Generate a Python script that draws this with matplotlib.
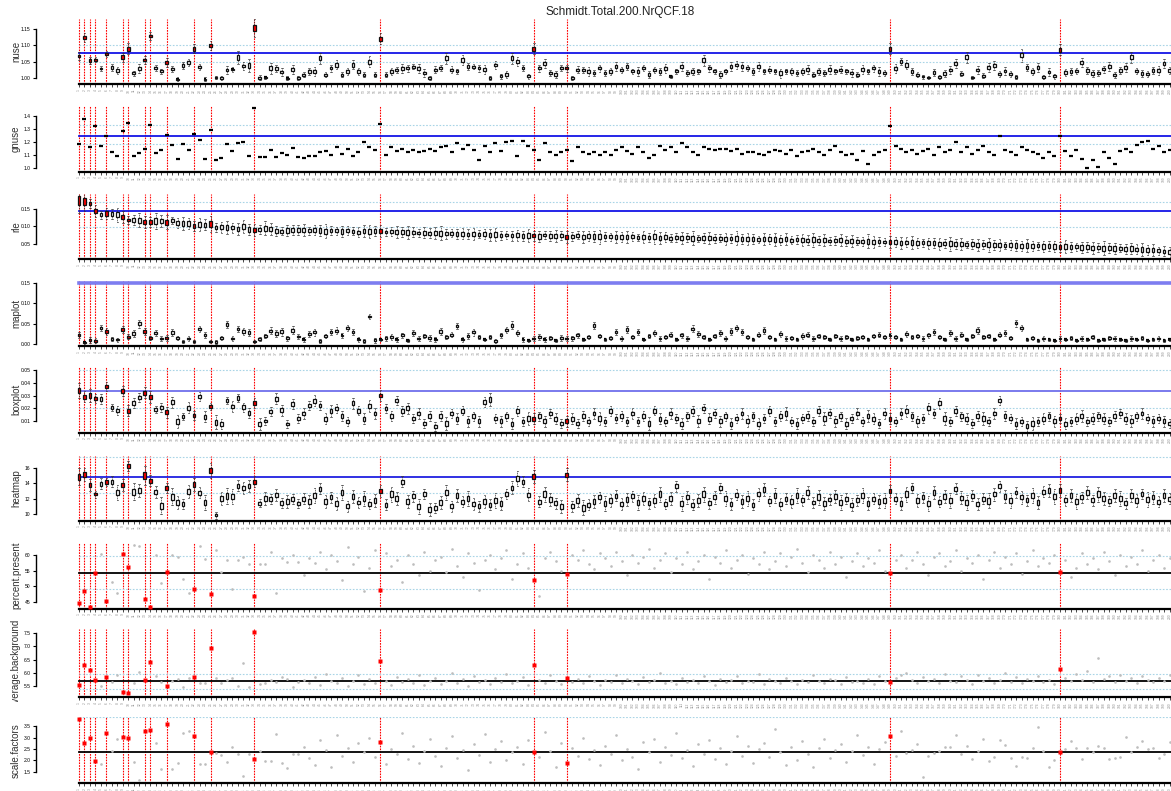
from matplotlib import pyplot as plt
from matplotlib.transforms import Bbox, TransformedBbox

plt.rcParams['font.family'] = 'Liberation Sans'

n = 200
outliers = [0, 1, 2, 3, 5, 8, 9, 12, 13, 16, 21, 24, 32, 55, 83, 89, 148, 179]
sample_names = [str(i + 1) for i in range(n)]

nuse = [1.067, 1.123, 1.053, 1.056, 1.029, 1.073, 1.032, 1.022, 1.064, 1.089,
        1.014, 1.028, 1.055, 1.129, 1.031, 1.020, 1.047, 1.028, 0.996, 1.039,
        1.048, 1.089, 1.034, 0.996, 1.099, 1.001, 1.000, 1.024, 1.026, 1.063,
        1.037, 1.038, 1.153, 1.001, 1.002, 1.030, 1.029, 1.018, 0.999, 1.027,
        1.000, 1.010, 1.020, 1.020, 1.060, 1.010, 1.030, 1.040, 1.010, 1.020,
        1.040, 1.020, 1.010, 1.050, 1.010, 1.120, 1.010, 1.020, 1.025, 1.030,
        1.030, 1.035, 1.030, 1.015, 1.000, 1.025, 1.030, 1.060, 1.025, 1.020,
        1.055, 1.035, 1.035, 1.030, 1.025, 1.000, 1.040, 1.005, 1.010, 1.060,
        1.050, 1.030, 1.005, 1.090, 1.030, 1.045, 1.015, 1.010, 1.030, 1.030,
        1.000, 1.025, 1.025, 1.020, 1.015, 1.030, 1.015, 1.020, 1.035, 1.025,
        1.035, 1.020, 1.020, 1.030, 1.010, 1.025, 1.020, 1.030, 1.005, 1.020,
        1.035, 1.015, 1.020, 1.020, 1.055, 1.030, 1.020, 1.010, 1.020, 1.035,
        1.040, 1.035, 1.030, 1.020, 1.035, 1.020, 1.025, 1.020, 1.015, 1.020,
        1.020, 1.015, 1.020, 1.025, 1.010, 1.020, 1.015, 1.025, 1.020, 1.025,
        1.020, 1.015, 1.010, 1.025, 1.020, 1.030, 1.020, 1.015, 1.090, 1.030,
        1.050, 1.040, 1.020, 1.010, 1.004, 1.001, 1.016, 1.003, 1.013, 1.024,
        1.045, 1.013, 1.063, 1.001, 1.024, 1.007, 1.033, 1.039, 1.012, 1.021,
        1.012, 1.003, 1.070, 1.032, 1.020, 1.033, 1.003, 1.018, 1.005, 1.086,
        1.017, 1.019, 1.021, 1.047, 1.023, 1.013, 1.016, 1.027, 1.036, 1.009,
        1.022, 1.033, 1.063, 1.022, 1.013, 1.012, 1.023, 1.024, 1.044, 1.022]
nuse_iqr = [.008, .010, .008, .006, .006, .006, .008, .008, .010, .012,
            .006, .010, .008, .008, .006, .006, .010, .006, .004, .008,
            .008, .010, .006, .004, .010, .004, .004, .008, .006, .014,
            .008, .014, .020, .006, .004, .012, .008, .008, .004, .010,
            .004, .006, .008, .010, .012, .006, .008, .010, .006, .008,
            .010, .008, .006, .012, .006, .012, .006, .008, .006, .010,
            .008, .006, .010, .008, .004, .008, .006, .012, .008, .006,
            .010, .008, .006, .008, .010, .004, .008, .006, .008, .012,
            .010, .006, .006, .012, .008, .010, .006, .008, .006, .008,
            .004, .008, .006, .010, .006, .008, .006, .008, .010, .006,
            .008, .006, .010, .006, .008, .006, .008, .010, .004, .006,
            .010, .006, .008, .006, .012, .008, .006, .008, .006, .010,
            .008, .010, .006, .008, .010, .006, .008, .006, .010, .006,
            .008, .006, .008, .010, .006, .008, .006, .010, .006, .008,
            .006, .008, .006, .010, .006, .008, .010, .006, .012, .010,
            .008, .010, .008, .006, .004, .004, .008, .004, .008, .008,
            .010, .006, .012, .004, .008, .006, .010, .010, .006, .008,
            .006, .004, .014, .008, .008, .010, .004, .008, .006, .012,
            .008, .008, .006, .010, .008, .008, .006, .008, .010, .006,
            .008, .010, .012, .006, .008, .006, .008, .010, .010, .008]

gnuse = [1.187, 1.377, 1.162, 1.326, 1.172, 1.249, 1.126, 1.092, 1.287, 1.346,
         1.092, 1.118, 1.149, 1.333, 1.118, 1.141, 1.256, 1.174, 1.072, 1.187,
         1.141, 1.262, 1.218, 1.072, 1.295, 1.062, 1.077, 1.182, 1.128, 1.192,
         1.197, 1.095, 1.462, 1.085, 1.085, 1.141, 1.085, 1.118, 1.100, 1.156,
         1.082, 1.08, 1.09, 1.09, 1.12, 1.13, 1.10, 1.16, 1.11, 1.15,
         1.09, 1.12, 1.20, 1.16, 1.14, 1.34, 1.10, 1.16, 1.13, 1.15,
         1.12, 1.14, 1.12, 1.13, 1.15, 1.13, 1.16, 1.17, 1.12, 1.19,
         1.15, 1.18, 1.14, 1.06, 1.17, 1.12, 1.19, 1.13, 1.20, 1.21,
         1.09, 1.21, 1.17, 1.14, 1.06, 1.19, 1.12, 1.10, 1.12, 1.14,
         1.05, 1.16, 1.12, 1.11, 1.12, 1.10, 1.12, 1.10, 1.14, 1.16,
         1.13, 1.11, 1.16, 1.12, 1.08, 1.10, 1.17, 1.14, 1.16, 1.12,
         1.19, 1.16, 1.12, 1.10, 1.16, 1.15, 1.14, 1.15, 1.15, 1.13,
         1.15, 1.11, 1.12, 1.12, 1.11, 1.10, 1.12, 1.14, 1.13, 1.11,
         1.14, 1.09, 1.12, 1.13, 1.15, 1.12, 1.10, 1.14, 1.17, 1.12,
         1.10, 1.11, 1.06, 1.13, 1.03, 1.10, 1.12, 1.14, 1.32, 1.17,
         1.15, 1.12, 1.14, 1.11, 1.13, 1.15, 1.10, 1.16, 1.12, 1.14,
         1.20, 1.12, 1.16, 1.11, 1.14, 1.17, 1.12, 1.10, 1.25, 1.14,
         1.12, 1.10, 1.16, 1.14, 1.12, 1.11, 1.08, 1.12, 1.09, 1.25,
         1.13, 1.09, 1.14, 1.07, 1.00, 1.06, 1.01, 1.12, 1.08, 1.03,
         1.13, 1.15, 1.12, 1.18, 1.20, 1.21, 1.15, 1.17, 1.12, 1.14]

rle = [.174, .172, .166, .145, .133, .137, .135, .133, .127, .118,
       .118, .118, .112, .113, .116, .116, .112, .117, .110, .108,
       .108, .101, .105, .105, .106, .097, .097, .097, .096, .093,
       .100, .091, .089, .091, .095, .093, .087, .086, .088, .089,
       .089, .090, .087, .089, .088, .086, .088, .087, .085, .088,
       .086, .083, .087, .085, .086, .086, .084, .085, .083, .084,
       .082, .083, .081, .082, .080, .081, .080, .079, .080, .078,
       .079, .077, .078, .077, .078, .076, .077, .074, .075, .073,
       .074, .072, .074, .073, .071, .075, .072, .073, .074, .069,
       .071, .074, .070, .072, .071, .070, .071, .070, .069, .070,
       .069, .071, .068, .069, .068, .070, .067, .069, .066, .068,
       .067, .068, .066, .065, .067, .066, .065, .066, .064, .065,
       .066, .064, .063, .064, .062, .064, .063, .062, .061, .063,
       .060, .062, .061, .060, .061, .059, .060, .058, .059, .060,
       .057, .058, .057, .056, .057, .055, .056, .055, .054, .055,
       .053, .054, .053, .052, .053, .051, .052, .050, .051, .050,
       .049, .050, .048, .049, .047, .048, .047, .046, .047, .045,
       .046, .045, .044, .045, .043, .044, .042, .043, .042, .041,
       .042, .040, .041, .039, .040, .038, .039, .037, .038, .036,
       .037, .035, .036, .034, .033, .032, .031, .030, .028, .025]
rle_iqr = [.025, .019, .010, .012, .008, .012, .010, .015, .012, .008,
           .010, .014, .012, .010, .016, .012, .014, .008, .010, .014,
           .012, .010, .014, .012, .016, .010, .012, .014, .010, .012,
           .014, .012, .012, .010, .014, .012, .010, .008, .012, .010,
           .010, .012, .008, .010, .012, .014, .010, .008, .012, .010,
           .008, .010, .012, .014, .010, .012, .008, .010, .012, .010,
           .014, .010, .008, .012, .010, .012, .014, .010, .008, .010,
           .012, .010, .012, .008, .010, .012, .014, .010, .008, .010,
           .012, .010, .014, .010, .012, .008, .010, .012, .010, .012,
           .010, .008, .012, .010, .012, .014, .010, .008, .012, .010,
           .012, .010, .008, .012, .010, .014, .012, .010, .008, .010,
           .012, .010, .014, .008, .010, .012, .010, .008, .012, .010,
           .014, .010, .012, .010, .008, .012, .010, .014, .010, .012,
           .008, .010, .012, .010, .014, .010, .012, .008, .010, .012,
           .010, .012, .008, .010, .014, .012, .010, .008, .012, .010,
           .012, .010, .014, .010, .008, .012, .010, .012, .010, .014,
           .010, .012, .008, .010, .012, .010, .014, .010, .012, .008,
           .010, .012, .010, .014, .010, .008, .012, .010, .012, .010,
           .014, .010, .008, .012, .010, .012, .010, .014, .010, .012,
           .008, .010, .012, .010, .014, .010, .012, .008, .010, .012]

maplot = [.023, .005, .010, .009, .040, .031, .013, .011, .036, .019,
          .027, .051, .031, .016, .027, .014, .016, .029, .016, .007,
          .014, .007, .038, .023, .007, .006, .016, .049, .014, .038,
          .032, .029, .007, .013, .020, .033, .027, .031, .015, .034,
          .019, .012, .025, .030, .008, .020, .030, .033, .022, .040,
          .030, .012, .008, .068, .010, .012, .015, .018, .012, .022,
          .010, .028, .014, .020, .016, .012, .032, .018, .024, .045,
          .012, .020, .030, .018, .012, .018, .008, .022, .035, .047,
          .028, .012, .010, .014, .018, .012, .016, .010, .016, .014,
          .015, .022, .012, .018, .046, .020, .012, .016, .030, .014,
          .036, .018, .030, .012, .020, .028, .014, .018, .024, .012,
          .022, .014, .038, .026, .018, .012, .020, .028, .014, .032,
          .040, .030, .018, .012, .024, .034, .018, .012, .026, .014,
          .016, .012, .020, .024, .014, .020, .018, .012, .020, .014,
          .018, .012, .016, .018, .012, .020, .024, .018, .022, .018,
          .012, .026, .018, .020, .014, .022, .030, .018, .012, .028,
          .014, .024, .012, .020, .034, .018, .020, .012, .024, .028,
          .016, .052, .040, .012, .016, .010, .014, .012, .010, .014,
          .012, .016, .010, .014, .012, .018, .010, .012, .016, .014,
          .012, .010, .014, .012, .016, .010, .012, .014, .010, .012]
maplot_iqr = [.006, .003, .005, .004, .005, .006, .003, .003, .006, .005,
              .006, .007, .006, .004, .005, .004, .005, .006, .004, .003,
              .004, .003, .005, .006, .003, .003, .004, .006, .004, .005,
              .006, .006, .003, .004, .004, .006, .006, .007, .004, .007,
              .004, .004, .005, .006, .003, .004, .005, .006, .004, .006,
              .005, .004, .003, .004, .004, .003, .004, .005, .004, .005,
              .003, .005, .004, .004, .005, .004, .006, .004, .005, .006,
              .004, .005, .006, .004, .003, .004, .003, .005, .006, .007,
              .005, .004, .003, .004, .005, .004, .004, .003, .005, .004,
              .004, .005, .003, .004, .006, .004, .003, .004, .005, .004,
              .006, .004, .005, .003, .004, .005, .004, .004, .005, .003,
              .005, .004, .006, .005, .004, .003, .004, .005, .004, .006,
              .006, .005, .004, .003, .005, .006, .004, .003, .005, .004,
              .004, .003, .005, .005, .004, .004, .004, .003, .004, .004,
              .004, .003, .004, .004, .003, .004, .005, .004, .004, .004,
              .003, .005, .004, .004, .004, .005, .005, .004, .003, .005,
              .004, .005, .003, .004, .006, .004, .004, .003, .005, .005,
              .004, .006, .006, .003, .004, .003, .004, .003, .003, .004,
              .003, .004, .003, .004, .003, .004, .003, .003, .004, .004,
              .003, .003, .004, .003, .004, .003, .003, .004, .003, .003]

boxplot = [.0339, .0292, .0302, .0279, .0273, .0370, .0206, .0182, .0336, .0182,
           .0242, .0287, .0323, .0290, .0190, .0208, .0170, .0247, .0096, .0135,
           .0206, .0146, .0290, .0135, .0213, .0091, .0078, .0260, .0215, .0281,
           .0210, .0164, .0242, .0078, .0101, .0174, .0276, .0185, .0078, .0234,
           .0120, .016, .022, .026, .022, .012, .018, .020, .014, .010,
           .024, .018, .012, .022, .016, .030, .020, .014, .026, .018,
           .020, .012, .016, .008, .014, .006, .014, .008, .016, .012,
           .018, .010, .014, .010, .025, .027, .012, .010, .014, .008,
           .018, .010, .012, .012, .014, .010, .016, .012, .008, .010,
           .012, .008, .014, .010, .016, .012, .010, .018, .012, .014,
           .010, .016, .010, .014, .008, .018, .012, .010, .016, .012,
           .008, .014, .018, .010, .020, .012, .016, .010, .014, .008,
           .012, .016, .010, .014, .008, .012, .018, .010, .014, .016,
           .010, .008, .012, .014, .010, .018, .012, .016, .010, .014,
           .008, .012, .016, .010, .014, .012, .008, .016, .012, .010,
           .016, .018, .014, .010, .012, .020, .016, .024, .012, .010,
           .018, .014, .012, .008, .014, .012, .010, .016, .026, .014,
           .012, .008, .010, .006, .008, .010, .012, .014, .010, .012,
           .008, .010, .012, .014, .010, .012, .014, .012, .010, .014,
           .016, .012, .010, .014, .016, .012, .010, .012, .010, .008]
boxplot_iqr = [.0040, .0030, .0035, .0025, .0030, .0025, .0020, .0025, .0030, .0030,
               .0030, .0025, .0030, .0035, .0020, .0025, .0030, .0030, .0035, .0020,
               .0030, .0025, .0025, .0030, .0020, .0040, .0030, .0020, .0030, .0025,
               .0025, .0030, .0030, .0035, .0020, .0025, .0030, .0030, .0020, .0030,
               .0025, .0030, .0025, .0030, .0025, .0030, .0035, .0025, .0030, .0025,
               .0030, .0025, .0030, .0035, .0030, .0030, .0025, .0030, .0025, .0030,
               .0030, .0025, .0030, .0025, .0030, .0025, .0030, .0035, .0025, .0030,
               .0025, .0030, .0025, .0030, .0030, .0035, .0025, .0030, .0025, .0030,
               .0030, .0025, .0035, .0030, .0025, .0030, .0025, .0030, .0025, .0030,
               .0030, .0025, .0030, .0025, .0030, .0035, .0025, .0030, .0025, .0030,
               .0025, .0030, .0025, .0030, .0035, .0025, .0030, .0025, .0030, .0025,
               .0030, .0025, .0030, .0035, .0025, .0030, .0025, .0030, .0025, .0030,
               .0025, .0030, .0035, .0025, .0030, .0025, .0030, .0025, .0030, .0035,
               .0025, .0030, .0025, .0030, .0025, .0030, .0035, .0025, .0030, .0025,
               .0030, .0025, .0030, .0025, .0035, .0030, .0025, .0030, .0030, .0025,
               .0030, .0035, .0025, .0030, .0025, .0030, .0025, .0030, .0035, .0025,
               .0030, .0025, .0030, .0025, .0030, .0035, .0025, .0030, .0025, .0030,
               .0025, .0030, .0025, .0030, .0035, .0025, .0030, .0025, .0030, .0025,
               .0030, .0025, .0030, .0035, .0025, .0030, .0025, .0030, .0025, .0030,
               .0025, .0030, .0035, .0025, .0030, .0025, .0030, .0025, .0030, .0025]

heatmap = [14.87, 15.13, 13.78, 12.57, 13.96, 14.17, 14.22, 12.78, 13.78, 16.26,
           12.91, 13.09, 15.04, 14.35, 12.87, 11.09, 13.39, 12.26, 11.52, 11.30,
           12.96, 13.83, 12.78, 11.52, 15.65, 9.83, 12.04, 12.35, 12.26, 13.70,
           13.39, 13.65, 14.22, 11.43, 12.00, 11.96, 12.48, 11.43, 11.65, 11.96,
           11.39, 12.0, 11.6, 12.4, 13.3, 11.6, 12.2, 11.4, 12.8, 11.0,
           12.3, 11.5, 12.0, 11.3, 11.8, 13.0, 11.2, 12.6, 12.0, 14.2,
           11.6, 12.3, 11.0, 12.6, 10.6, 10.8, 11.5, 12.8, 11.0, 12.4,
           11.6, 12.0, 11.3, 11.0, 11.6, 11.2, 11.8, 11.4, 12.6, 13.4,
           14.6, 14.2, 12.5, 14.9, 11.6, 12.6, 11.9, 11.4, 11.0, 15.1,
           11.0, 11.8, 10.8, 11.2, 11.6, 12.2, 11.4, 11.8, 12.4, 11.3,
           11.9, 12.3, 11.5, 12.0, 11.4, 11.8, 12.6, 11.3, 12.0, 13.6,
           11.4, 12.2, 11.2, 11.8, 12.6, 11.4, 12.2, 13.4, 12.0, 11.3,
           12.5, 11.6, 12.0, 11.2, 12.6, 13.2, 11.7, 12.4, 11.3, 12.0,
           11.6, 12.4, 11.8, 12.8, 11.5, 12.2, 11.4, 11.9, 12.3, 11.5,
           12.0, 11.2, 11.8, 12.4, 11.4, 12.0, 11.6, 11.8, 13.0, 12.0,
           11.4, 12.6, 13.4, 11.8, 12.2, 11.4, 12.8, 11.6, 12.3, 11.8,
           13.3, 12.1, 11.5, 12.4, 11.3, 12.0, 11.7, 12.6, 13.6, 12.3,
           11.8, 12.8, 12.2, 11.8, 12.4, 11.5, 12.9, 13.1, 12.3, 13.1,
           11.8, 12.4, 11.6, 12.2, 12.8, 11.8, 12.6, 12.0, 11.7, 12.4,
           12.0, 11.4, 12.4, 11.8, 12.6, 11.9, 12.2, 11.6, 12.4, 12.0]
heatmap_iqr = [.8, .6, .6, .3, .5, .4, .5, .7, .6, .5,
               .8, .6, .9, .5, .6, .8, .5, .8, .6, .5,
               .6, .6, .5, .7, .7, .3, .6, .7, .7, .5,
               .6, .6, .5, .4, .6, .5, .6, .5, .6, .5,
               .4, .5, .6, .7, .5, .6, .5, .6, .7, .5,
               .6, .5, .7, .5, .6, .6, .5, .7, .6, .5,
               .6, .5, .7, .5, .6, .5, .6, .7, .5, .6,
               .5, .7, .6, .5, .6, .5, .7, .6, .5, .6,
               .7, .5, .6, .6, .5, .7, .6, .5, .6, .6,
               .5, .6, .7, .5, .6, .5, .7, .6, .5, .6,
               .6, .5, .7, .6, .5, .6, .7, .5, .6, .5,
               .7, .6, .5, .6, .7, .5, .6, .5, .7, .6,
               .5, .6, .7, .5, .6, .6, .5, .7, .6, .5,
               .6, .7, .5, .6, .5, .7, .6, .5, .6, .7,
               .5, .6, .5, .7, .6, .5, .6, .7, .6, .5,
               .6, .7, .5, .6, .5, .7, .6, .5, .6, .7,
               .5, .6, .7, .5, .6, .5, .7, .6, .5, .6,
               .7, .5, .6, .5, .7, .6, .5, .6, .7, .6,
               .5, .6, .7, .5, .6, .5, .7, .6, .5, .6,
               .7, .5, .6, .6, .5, .7, .6, .5, .6, .5]

percent_present = [44.6, 48.5, 43.6, 54.4, 60.2, 45.5, 51.3, 47.8, 60.2, 56.3,
                   63.2, 63.0, 46.1, 43.6, 60.1, 51.2, 54.6, 60.0, 59.3, 52.5,
                   47.9, 49.1, 63.0, 58.7, 47.5, 61.6, 54.6, 58.5, 49.1, 58.5,
                   59.5, 57.0, 46.9, 57.1, 57.1, 60.9, 47.9, 58.9, 57.7, 59.9,
                   57.9, 53.5, 59.0, 57.5, 61.0, 55.5, 60.0, 58.0, 52.0, 62.5,
                   57.0, 59.5, 48.5, 56.0, 61.5, 48.8, 60.5, 56.5, 58.5, 51.5,
                   60.0, 57.0, 53.5, 61.0, 55.0, 58.5, 59.5, 54.5, 62.0, 56.5,
                   53.0, 60.5, 57.5, 49.0, 58.5, 60.0, 55.5, 59.0, 61.5, 52.5,
                   57.0, 60.5, 56.0, 51.9, 47.0, 59.0, 61.0, 58.0, 55.0, 54.0,
                   60.0, 58.5, 61.5, 57.0, 55.5, 60.5, 59.0, 56.5, 61.0, 58.0,
                   53.5, 60.0, 57.5, 59.5, 62.0, 56.0, 58.5, 60.5, 54.5, 59.0,
                   57.0, 61.0, 55.5, 58.0, 60.0, 52.5, 59.5, 57.5, 61.5, 56.0,
                   58.5, 60.0, 54.0, 59.0, 57.0, 61.0, 55.5, 58.0, 60.5, 56.5,
                   59.5, 62.0, 57.5, 54.5, 60.0, 58.5, 56.0, 61.0, 57.0, 59.5,
                   53.0, 58.0, 60.5, 56.5, 59.0, 57.5, 61.5, 55.0, 54.2, 58.5,
                   60.0, 56.0, 58.5, 61.0, 57.0, 53.5, 59.5, 60.5, 56.5, 58.0,
                   61.5, 55.0, 59.0, 57.5, 60.0, 52.5, 58.5, 61.0, 56.0, 59.5,
                   57.0, 60.5, 54.0, 58.0, 61.5, 56.5, 59.0, 57.5, 60.0, 54.5,
                   58.5, 53.0, 56.0, 60.5, 57.0, 59.0, 55.5, 61.0, 58.0, 53.5,
                   60.0, 56.5, 59.5, 57.0, 61.5, 55.0, 58.5, 60.0, 56.0, 59.0]

average_background = [5.55, 6.31, 6.11, 5.73, 5.50, 5.85, 5.66, 5.90, 5.28, 5.23,
                      5.63, 6.04, 5.74, 6.40, 5.88, 5.66, 5.48, 5.67, 5.75, 5.45,
                      5.82, 5.83, 5.61, 5.61, 6.94, 5.80, 5.61, 5.73, 5.80, 5.50,
                      6.39, 5.47, 7.54, 5.57, 5.63, 5.73, 5.66, 5.83, 5.76, 5.45,
                      5.66, 5.72, 5.60, 5.85, 5.55, 5.95, 5.70, 5.62, 5.80, 5.50,
                      5.68, 5.90, 5.58, 5.75, 5.62, 6.45, 5.70, 5.55, 5.85, 5.65,
                      5.78, 5.60, 5.92, 5.52, 5.70, 5.82, 5.58, 5.68, 6.00, 5.62,
                      5.75, 5.50, 5.88, 5.65, 5.72, 5.58, 5.80, 5.66, 5.95, 5.60,
                      5.70, 5.85, 5.55, 6.30, 5.72, 5.62, 5.90, 5.68, 5.56, 5.82,
                      5.64, 5.78, 5.60, 5.86, 5.70, 5.54, 5.74, 5.66, 5.92, 5.60,
                      5.76, 5.68, 5.58, 5.84, 5.64, 5.72, 5.98, 5.62, 5.70, 5.56,
                      5.80, 5.66, 5.74, 5.60, 5.88, 5.68, 5.54, 5.78, 5.64, 5.72,
                      5.86, 5.60, 5.70, 5.66, 5.94, 5.58, 5.76, 5.68, 5.62, 5.82,
                      5.70, 5.56, 5.74, 5.64, 5.90, 5.68, 5.60, 5.78, 5.72, 5.58,
                      5.84, 5.66, 5.70, 5.62, 5.76, 5.56, 5.88, 5.68, 5.65, 5.80,
                      5.92, 6.00, 5.72, 5.60, 5.84, 5.68, 5.76, 5.62, 5.96, 5.70,
                      5.64, 5.86, 5.74, 5.58, 5.90, 5.68, 5.80, 5.62, 5.72, 5.98,
                      5.66, 5.84, 5.60, 5.76, 5.70, 5.88, 5.64, 5.74, 5.58, 6.14,
                      5.82, 5.68, 5.96, 5.72, 6.05, 5.66, 6.55, 5.78, 5.86, 5.64,
                      5.92, 5.70, 5.80, 5.62, 5.88, 5.74, 5.66, 5.82, 5.70, 5.90]

scale_factors = [3.79, 2.75, 2.96, 1.98, 1.86, 3.18, 2.43, 2.93, 3.04, 2.96,
                 1.95, 1.14, 3.28, 3.33, 2.78, 1.63, 3.57, 1.61, 1.89, 3.20,
                 3.30, 3.05, 1.83, 1.84, 2.36, 2.33, 2.23, 1.92, 2.57, 2.27,
                 1.33, 2.27, 2.05, 2.40, 1.96, 1.99, 3.16, 1.91, 1.66, 2.27,
                 2.27, 2.60, 2.10, 1.80, 2.90, 2.45, 1.70, 3.10, 2.20, 2.55,
                 1.95, 2.75, 2.35, 3.00, 2.15, 2.80, 1.85, 2.50, 2.30, 3.20,
                 2.05, 2.65, 1.90, 2.40, 2.95, 2.20, 1.75, 2.55, 3.05, 2.10,
                 2.45, 1.60, 2.70, 2.25, 3.15, 1.95, 2.50, 2.85, 2.00, 2.35,
                 2.60, 1.85, 2.90, 2.37, 2.15, 3.25, 2.40, 1.70, 2.75, 1.90,
                 2.55, 2.20, 3.00, 2.05, 2.45, 1.80, 2.65, 2.30, 3.10, 2.00,
                 2.50, 2.15, 1.65, 2.80, 2.35, 2.95, 1.95, 2.60, 2.25, 3.20,
                 2.10, 2.45, 1.75, 2.70, 2.30, 2.90, 2.05, 2.55, 1.85, 2.40,
                 3.05, 2.20, 2.65, 1.90, 2.50, 2.75, 2.15, 3.35, 2.35, 1.80,
                 2.60, 2.00, 2.85, 2.30, 1.70, 2.55, 2.95, 2.10, 2.45, 2.70,
                 1.95, 2.40, 3.10, 2.25, 2.60, 1.85, 2.50, 2.80, 3.05, 2.20,
                 3.28, 2.31, 2.45, 2.72, 1.28, 2.21, 2.31, 2.41, 2.57, 2.57,
                 3.13, 2.30, 2.62, 2.06, 2.43, 2.93, 1.98, 2.15, 2.88, 2.67,
                 2.09, 1.77, 2.14, 2.12, 2.53, 3.46, 2.41, 1.71, 2.04, 2.36,
                 2.51, 2.83, 2.53, 2.07, 2.53, 2.36, 2.64, 2.55, 2.06, 2.12,
                 2.14, 3.01, 2.39, 2.57, 2.83, 2.51, 2.55, 2.09, 2.30, 2.80]

panel_names = ["nuse", "gnuse", "rle", "maplot", "boxplot", "heatmap",
               "percent.present", "average.background", "scale.factors"]
thresholds = [1.0765, 1.244, 0.143, 0.15, 0.0334, 14.78, 54.4, 5.70, 2.36]
bands = [[1.048, 1.100], [1.328, 1.187], [0.171, 0.097], [], [0.050, 0.020],
         [17.43, 12.70], [59.6, 49.3], [5.97, 5.40], [3.88]]
yticks = [[1.00, 1.05, 1.10, 1.15], [1.0, 1.1, 1.2, 1.3, 1.4], [0.05, 0.10, 0.15],
          [0.00, 0.05, 0.10, 0.15], [0.01, 0.02, 0.03, 0.04, 0.05], [10, 12, 14, 16],
          [45, 50, 55, 60], [5.5, 6.0, 6.5, 7.0, 7.5], [1.5, 2.0, 2.5, 3.0, 3.5]]
yfmt = ["%.2f", "%.1f", "%.2f", "%.2f", "%.2f", "%d", "%d", "%.1f", "%.1f"]
ylims = [(0.9816, 1.1806), (0.9715, 1.477), (0.006, 0.194), (-0.004, 0.155),
         (0.001, 0.0523), (9.13, 17.56), (42.9, 63.9), (5.07, 7.65), (1.02, 3.88)]
# panel top / bottom in pixels
rows = [(19, 84), (106, 171.7), (193.7, 259), (281, 346), (367, 432.7),
        (456, 520.7), (542.7, 608.7), (629.3, 697.3), (717.3, 783)]
line_colors = ['#1414e6', '#1414e6', '#1414e6', '#7d7df0', '#6f6fec', '#2020e0',
               'black', 'black', 'black']

W, H = 1171, 791
fig = plt.figure(figsize=(W / 100, H / 100), dpi=100)
x0 = 36
step = 5.48
first = 79
xlim = ((x0 - first) / step, (W - first) / step)
pos = list(range(n))
is_out = [i in outliers for i in range(n)]


def draw_boxes(ax, med, iqr):
    stats = []
    for m, q in zip(med, iqr):
        stats.append(dict(med=m, q1=m - q / 2, q3=m + q / 2,
                          whislo=m - 1.4 * q, whishi=m + 1.4 * q, fliers=[]))
    bp = ax.bxp(stats, positions=pos, widths=0.5, patch_artist=True,
                showfliers=False, manage_ticks=False, capwidths=0.3,
                boxprops=dict(lw=0.9, edgecolor='#111111'),
                medianprops=dict(color='black', lw=1.6),
                whiskerprops=dict(lw=0.5, ls=(0, (2, 1)), color='#333333'),
                capprops=dict(lw=0.5, color='#333333'))
    for b, o in zip(bp['boxes'], is_out):
        b.set_facecolor('red' if o else 'white')
        b.set_zorder(3)


series = [nuse, gnuse, rle, maplot, boxplot, heatmap,
          percent_present, average_background, scale_factors]
iqrs = {0: nuse_iqr, 2: rle_iqr, 3: maplot_iqr, 4: boxplot_iqr, 5: heatmap_iqr}

for k, name in enumerate(panel_names):
    top, bot = rows[k]
    ax = fig.add_axes([x0 / W, 1 - bot / H, (W - x0) / W, (bot - top) / H])
    ax.set_xlim(*xlim)
    ax.set_ylim(*ylims[k])
    lo, hi = ylims[k]

    for i in outliers:
        ax.plot([i, i], [lo, hi], color='red', lw=0.8, ls=(0, (1.5, 1)), zorder=1)
    for b in bands[k]:
        ax.plot([0, xlim[1]], [b, b], color='#a8d4e6', lw=0.8, ls=(0, (1.5, 1.5)), zorder=1)
    ax.plot([0, xlim[1]], [thresholds[k], thresholds[k]], color=line_colors[k],
            lw=2.6 if k == 3 else 1.3, zorder=2)

    if k in iqrs:
        draw_boxes(ax, series[k], iqrs[k])
    elif k == 1:
        ax.plot(pos, series[k], ls='none', marker='_', ms=3.2, mew=1.6, color='black', zorder=3)
    else:
        gx = [i for i in pos if not is_out[i]]
        ax.plot(gx, [series[k][i] for i in gx], ls='none', marker='o', ms=1.9,
                mec='none', color='#bdbdbd', zorder=3)
        ax.plot(outliers, [series[k][i] for i in outliers], ls='none', marker='s',
                ms=2.2, mec='none', color='red', zorder=4)

    for s in ['top', 'right']:
        ax.spines[s].set_visible(False)
    ax.spines['left'].set_bounds(yticks[k][0], yticks[k][-1])
    ax.spines['left'].set_linewidth(1.0)
    ax.spines['bottom'].set_bounds(0, n - 1)
    ax.spines['bottom'].set_linewidth(1.6)
    ax.set_yticks(yticks[k])
    ax.set_yticklabels([yfmt[k] % v for v in yticks[k]])
    ax.tick_params(axis='y', labelsize=3.6, length=2.5, width=0.8, pad=1.5)
    ax.set_xticks(pos)
    ax.set_xticklabels(sample_names, rotation=90, fontsize=2.4, color='#909090')
    ax.tick_params(axis='x', length=2, width=0.5, pad=1.5)
    ax.patch.set_visible(False)

    lab = fig.text(16 / W, 1 - (top + bot) / 2 / H, name, rotation=90, fontsize=7,
                   color='#333333', ha='center', va='center')
    lab.set_clip_on(True)
    lab.set_clip_box(TransformedBbox(Bbox([[0, 1 - (bot + 4.5) / H], [1, 1 - (top - 25) / H]]),
                                     fig.transFigure))

fig.text(620 / W, 1 - 12 / H, "Schmidt.Total.200.NrQCF.18", fontsize=8.5,
         ha='center', va='center', color='#222222')

plt.savefig('out.png', dpi=100)
